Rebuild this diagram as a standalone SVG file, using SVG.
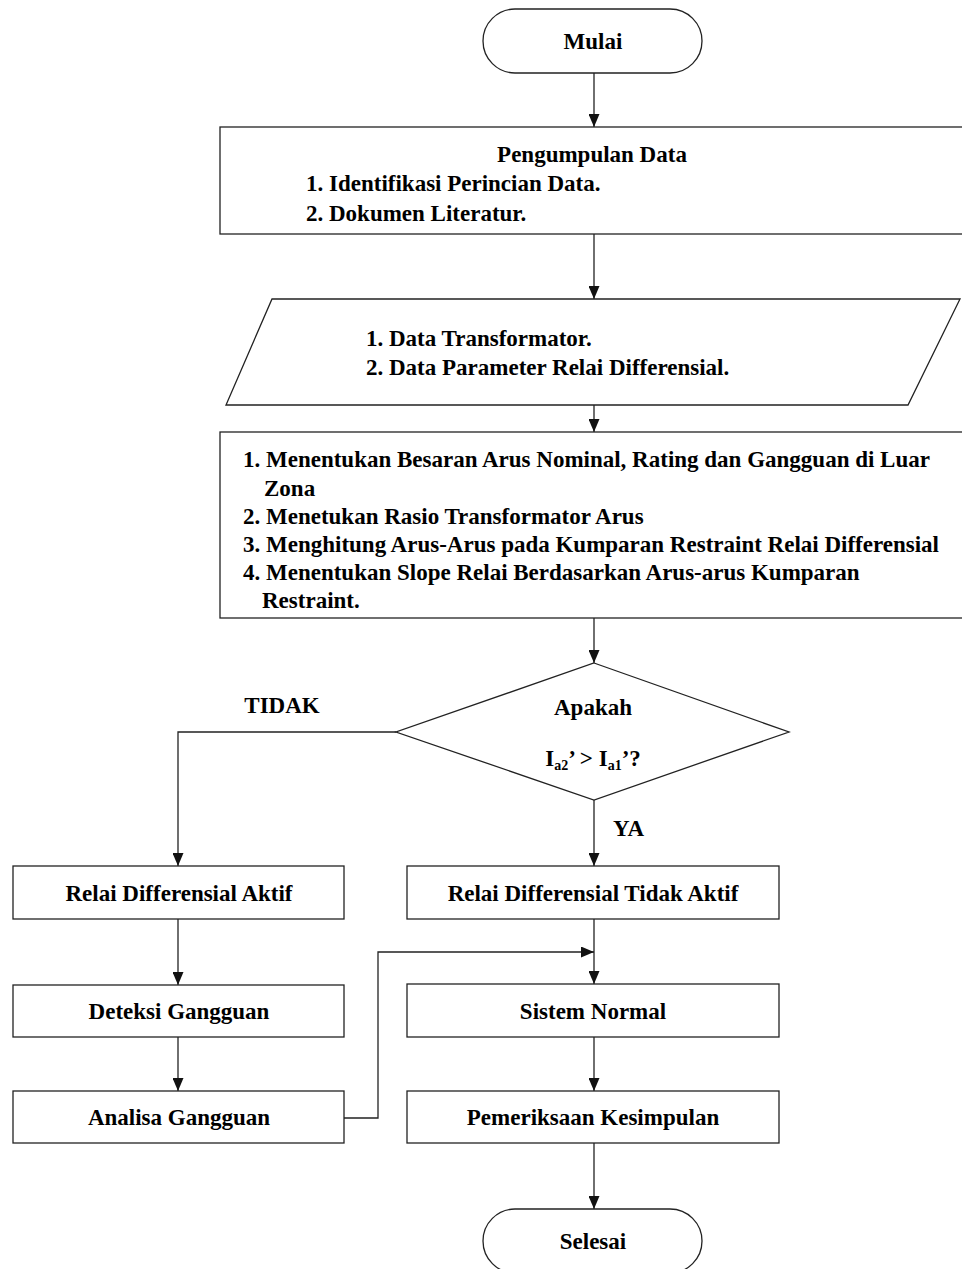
<svg xmlns="http://www.w3.org/2000/svg" width="962" height="1269" viewBox="0 0 962 1269">
<style>
.s{fill:#fff;stroke:#222;stroke-width:1.3}
.c{fill:none;stroke:#222;stroke-width:1.3}
text{font-family:"Liberation Serif","Times New Roman",serif;font-weight:bold;font-size:23px;fill:#000}
.m{text-anchor:middle}
.sub{font-size:14px}
</style>
<defs>
<marker id="ah" markerUnits="userSpaceOnUse" markerWidth="13" markerHeight="11" refX="13" refY="5.5" orient="auto">
<path d="M0,0 L13,5.5 L0,11 z" fill="#111"/>
</marker>
</defs>
<rect width="962" height="1269" fill="#fff"/>
<g id="connectors">
<path class="c" d="M594,72 V127" marker-end="url(#ah)"/>
<path class="c" d="M594,234 V299" marker-end="url(#ah)"/>
<path class="c" d="M594,405 V432" marker-end="url(#ah)"/>
<path class="c" d="M594,618 V663" marker-end="url(#ah)"/>
<path class="c" d="M396,732 H178 V866" marker-end="url(#ah)"/>
<path class="c" d="M594,800 V866" marker-end="url(#ah)"/>
<path class="c" d="M178,919 V985" marker-end="url(#ah)"/>
<path class="c" d="M178,1037 V1091" marker-end="url(#ah)"/>
<path class="c" d="M594,919 V984" marker-end="url(#ah)"/>
<path class="c" d="M344,1118 H378 V952 H594" marker-end="url(#ah)"/>
<path class="c" d="M594,1037 V1091" marker-end="url(#ah)"/>
<path class="c" d="M594,1143 V1209" marker-end="url(#ah)"/>
<text x="282" y="713" class="m">TIDAK</text>
<text x="613" y="836">YA</text>
</g>
<g id="mulai">
<rect class="s" x="483" y="9" width="219" height="64" rx="32"/>
<text x="593" y="49" class="m">Mulai</text>
</g>
<g id="pengumpulan">
<rect class="s" x="220" y="127" width="750" height="107"/>
<text x="592" y="162" class="m">Pengumpulan Data</text>
<text x="306" y="191">1. Identifikasi Perincian Data.</text>
<text x="306" y="221">2. Dokumen Literatur.</text>
</g>
<g id="data">
<polygon class="s" points="272,299 960,299 908,405 226,405"/>
<text x="366" y="346">1. Data Transformator.</text>
<text x="366" y="375">2. Data Parameter Relai Differensial.</text>
</g>
<g id="proses">
<rect class="s" x="220" y="432" width="750" height="186"/>
<text x="243" y="467">1. Menentukan Besaran Arus Nominal, Rating dan Gangguan di Luar</text>
<text x="264" y="496">Zona</text>
<text x="243" y="524">2. Menetukan Rasio Transformator Arus</text>
<text x="243" y="552">3. Menghitung Arus-Arus pada Kumparan Restraint Relai Differensial</text>
<text x="243" y="580">4. Menentukan Slope Relai Berdasarkan Arus-arus Kumparan</text>
<text x="262" y="608">Restraint.</text>
</g>
<g id="keputusan">
<polygon class="s" points="594,663 789,732 594,800 396,732"/>
<text x="593" y="715" class="m">Apakah</text>
<text x="593" y="766" class="m">I<tspan class="sub" dy="4">a2</tspan><tspan dy="-4">’ &gt; I</tspan><tspan class="sub" dy="4">a1</tspan><tspan dy="-4">’?</tspan></text>
</g>
<g id="aktif">
<rect class="s" x="13" y="866" width="331" height="53"/>
<text x="179" y="901" class="m">Relai Differensial Aktif</text>
</g>
<g id="deteksi">
<rect class="s" x="13" y="985" width="331" height="52"/>
<text x="179" y="1019" class="m">Deteksi Gangguan</text>
</g>
<g id="analisa">
<rect class="s" x="13" y="1091" width="331" height="52"/>
<text x="179" y="1125" class="m">Analisa Gangguan</text>
</g>
<g id="tidakaktif">
<rect class="s" x="407" y="866" width="372" height="53"/>
<text x="593" y="901" class="m">Relai Differensial Tidak Aktif</text>
</g>
<g id="normal">
<rect class="s" x="407" y="984" width="372" height="53"/>
<text x="593" y="1019" class="m">Sistem Normal</text>
</g>
<g id="pemeriksaan">
<rect class="s" x="407" y="1091" width="372" height="52"/>
<text x="593" y="1125" class="m">Pemeriksaan Kesimpulan</text>
</g>
<g id="selesai">
<rect class="s" x="483" y="1209" width="219" height="64" rx="32"/>
<text x="593" y="1249" class="m">Selesai</text>
</g>
</svg>
